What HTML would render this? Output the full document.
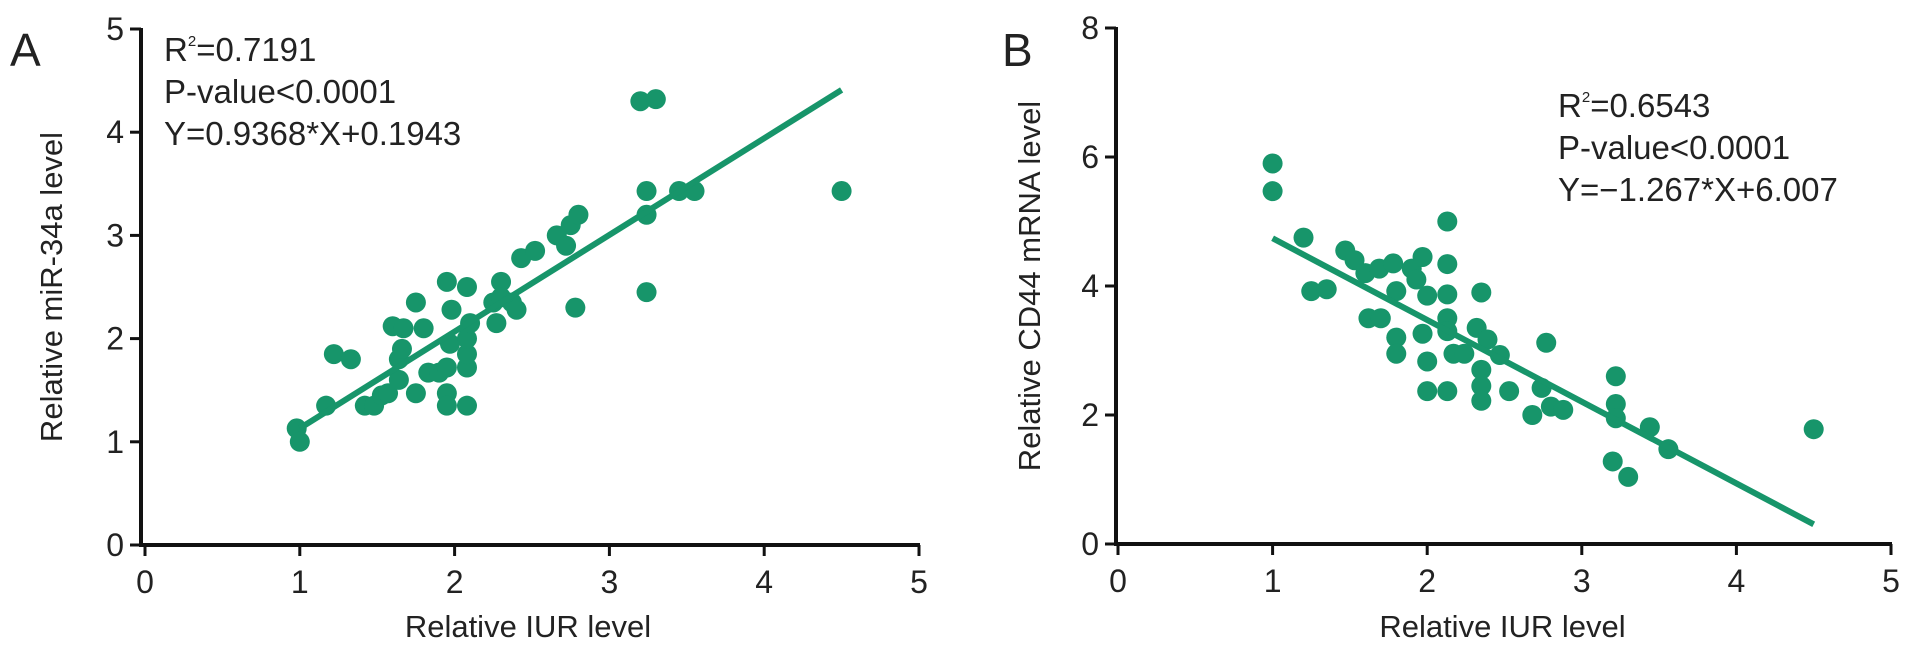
<!DOCTYPE html>
<html><head><meta charset="utf-8"><style>
html,body{margin:0;padding:0;background:#fff;}
svg{display:block;font-family:"Liberation Sans",Arial,sans-serif;}
</style></head><body>
<svg id="chart" width="1913" height="648" viewBox="0 0 1913 648">
<text x="10" y="66" font-size="46" fill="#222">A</text>
<text x="1002" y="66" font-size="46" fill="#222">B</text>
<g id="pA"></g>
<g id="pB"></g>
</svg>
<script>
const xTicks = [0,1,2,3,4,5];
const yTicksA = [0,1,2,3,4,5];
const yTicksB = [0,2,4,6,8];
const aX = [0.98,1.0,1.17,1.22,1.33,1.42,1.48,1.53,1.57,1.6,1.67,1.64,1.64,1.66,1.75,1.75,1.8,1.83,1.9,1.95,1.95,1.95,1.95,1.97,1.98,2.08,2.08,2.08,2.08,2.08,2.1,2.25,2.27,2.3,2.3,2.37,2.4,2.43,2.52,2.66,2.72,2.75,2.8,2.78,3.2,3.3,3.24,3.24,3.24,3.45,3.55,4.5];
const aY = [1.13,1.0,1.35,1.85,1.8,1.35,1.35,1.45,1.47,2.12,2.1,1.8,1.6,1.9,2.35,1.47,2.1,1.67,1.67,2.55,1.72,1.47,1.35,1.95,2.28,2.5,1.72,1.85,2.0,1.35,2.15,2.35,2.15,2.55,2.4,2.35,2.28,2.78,2.85,3.0,2.9,3.1,3.2,2.3,4.3,4.32,3.43,3.2,2.45,3.43,3.43,3.43];
const bX = [1.0,1.0,1.2,1.25,1.35,1.47,1.53,1.6,1.62,1.7,1.69,1.78,1.8,1.8,1.8,1.9,1.93,1.97,2.0,1.97,2.0,2.0,2.13,2.13,2.13,2.13,2.13,2.13,2.17,2.24,2.35,2.32,2.35,2.35,2.35,2.39,2.47,2.53,2.68,2.74,2.77,2.8,2.88,3.22,3.22,3.22,3.2,3.3,3.44,3.56,4.5];
const bY = [5.9,5.47,4.75,3.92,3.95,4.55,4.4,4.2,3.5,3.5,4.27,4.35,3.92,3.2,2.95,4.27,4.1,4.45,3.85,3.26,2.83,2.37,5.0,4.34,3.87,3.5,3.3,2.37,2.95,2.95,3.9,3.35,2.45,2.22,2.7,3.17,2.93,2.37,2.0,2.42,3.12,2.13,2.08,2.6,2.17,1.95,1.28,1.04,1.81,1.47,1.78];
const fitA = [0.9368,0.1943];
const fitB = [-1.267,6.007];
const fitRange = [1,4.5];
const NS='http://www.w3.org/2000/svg';
const GREEN='#17956a';
function mk(tag,attrs,parent){const e=document.createElementNS(NS,tag);for(const k in attrs)e.setAttribute(k,attrs[k]);parent.appendChild(e);return e;}
function panel(g,ox,x0,xu,y0,yTop,yMax,yTicks,xs,ys,fit,ytitle,ytx,stats,sx,sy,pfx){
  const X=v=>x0+v*xu, Y=v=>y0-(y0-yTop)*v/yMax;
  let ax=mk('line',{x1:ox,y1:Y(0),x2:X(5)+1,y2:Y(0),stroke:'#111','stroke-width':4},g);
  
  let ay=mk('line',{x1:ox,y1:Y(0)+2,x2:ox,y2:Y(yMax)-1,stroke:'#111','stroke-width':4},g);
  
  xTicks.forEach(t=>{
    let l=mk('line',{x1:X(t),y1:Y(0),x2:X(t),y2:Y(0)+11,stroke:'#111','stroke-width':3},g);
    
    let tx=mk('text',{x:X(t),y:Y(0)+48,'font-size':32,'text-anchor':'middle',fill:'#222'},g);tx.textContent=t;
    
  });
  yTicks.forEach(t=>{
    let l=mk('line',{x1:ox-11,y1:Y(t),x2:ox,y2:Y(t),stroke:'#111','stroke-width':3},g);
    
    let tx=mk('text',{x:ox-17,y:Y(t)+11,'font-size':32,'text-anchor':'end',fill:'#222'},g);tx.textContent=t;
    
  });
  let xt=mk('text',{x:X(2.5)-(X(0)-ox),y:637,'font-size':31,'text-anchor':'middle',fill:'#222'},g);xt.textContent='Relative IUR level';
  
  let cy=(Y(0)+Y(yMax))/2;
  let yt=mk('text',{x:ytx,y:cy,'font-size':31,'text-anchor':'middle',fill:'#222',transform:`rotate(-90 ${ytx} ${cy})`},g);yt.textContent=ytitle;
  
  xs.forEach((v,i)=>{
    let c=mk('circle',{cx:X(v),cy:Y(ys[i]),r:10,fill:GREEN},g);
    
  });
  let ln=mk('line',{x1:X(fitRange[0]),y1:Y(fit[0]*fitRange[0]+fit[1]),x2:X(fitRange[1]),y2:Y(fit[0]*fitRange[1]+fit[1]),stroke:GREEN,'stroke-width':6},g);
  
  stats.forEach((s,i)=>{
    let t=mk('text',{x:sx,y:sy+i*42,'font-size':33,fill:'#222'},g);
    t.innerHTML=s;
    
    
  });
}
panel(document.getElementById('pA'),141,145,154.8,545,29,5,yTicksA,aX,aY,fitA,'Relative miR-34a level',62,
 ['R<tspan font-size="15" dy="-15">2</tspan><tspan dy="15">=0.7191</tspan>','P-value&lt;0.0001','Y=0.9368*X+0.1943'],164,61);
panel(document.getElementById('pB'),1116,1118,154.6,544,28,8,yTicksB,bX,bY,fitB,'Relative CD44 mRNA level',1040,
 ['R<tspan font-size="15" dy="-15">2</tspan><tspan dy="15">=0.6543</tspan>','P-value&lt;0.0001','Y=\u22121.267*X+6.007'],1558,117);
</script>
</body></html>
